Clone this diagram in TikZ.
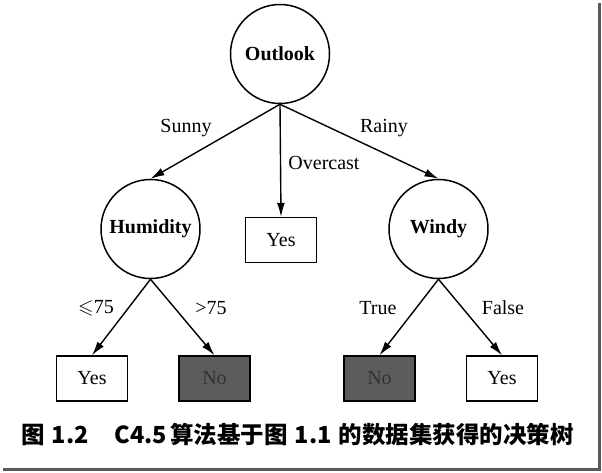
\documentclass[tikz,border=0pt]{standalone}
\usepackage{amssymb}
\usepackage{fontspec}
\setmainfont{Liberation Serif}
\newfontfamily\cjk{Noto Sans CJK SC}
\usetikzlibrary{arrows.meta}

\begin{document}
\begin{tikzpicture}[x=1pt, y=-1pt,
  attr/.style={circle, draw, line width=1.5pt, minimum size=99pt, inner sep=0pt, font=\fontsize{20}{23}\selectfont\bfseries},
  leaf/.style={rectangle, draw, line width=1.4pt, minimum width=71pt, minimum height=45pt, inner sep=0pt, font=\fontsize{20}{23}\selectfont},
  noleaf/.style={leaf, fill=black!64, text=black!80},
  edge/.style={line width=1.4pt, -{Latex[length=14pt, width=8pt]}},
  lab/.style={font=\fontsize{20}{23}\selectfont}]
\useasboundingbox (0,0) rectangle (602,473);
% page shadow
\draw[black!65, line width=3pt] (599.5,3) -- (599.5,469) -- (3,469);
% the tree
\node[attr] (outlook) at (280,54) {Outlook};
\node[attr] (humid) at (150.5,229) {Humidity};
\node[attr] (windy) at (438.5,229) {Windy};
\node[leaf] (yesmid) at (281,240) {Yes};
\node[leaf] (yesa) at (92,378.5) {Yes};
\node[noleaf] (noa) at (214.5,378.5) {No};
\node[noleaf] (nob) at (379.5,378.5) {No};
\node[leaf] (yesb) at (502,378.5) {Yes};
\draw[edge] (outlook.south) -- (humid.north);
\draw[edge] (outlook.south) -- (yesmid.north);
\draw[edge] (outlook.south) -- (windy.north);
\draw[edge] (humid.south) -- (yesa.north);
\draw[edge] (humid.south) -- (noa.north);
\draw[edge] (windy.south) -- (nob.north);
\draw[edge] (windy.south) -- (yesb.north);
% branch labels
\node[lab] (sunny) at (186,128) {Sunny};
\node[lab] (overcast) at (324,163) {Overcast};
\node[lab] (rainy) at (384,128) {Rainy};
\node[lab] (le75) at (96,308) {$\leqslant$75};
\node[lab] (gt75) at (211,308) {>75};
\node[lab] (true) at (378,308) {True};
\node[lab] (false) at (503,308) {False};
% caption
\node[font=\cjk\fontsize{23.5}{26}\selectfont\bfseries] (caption) at (297.5,435)
  {图\hspace{7pt}1.2\hspace{26pt}C4.5\hspace{3pt}算法基于图\hspace{7pt}1.1\hspace{7pt}的数据集获得的决策树};
\end{tikzpicture}
\end{document}
